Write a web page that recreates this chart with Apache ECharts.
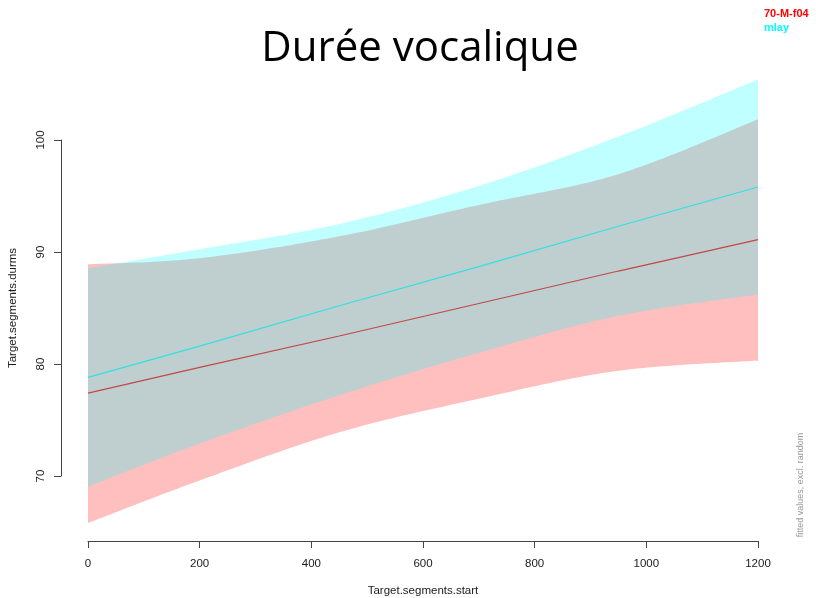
<!DOCTYPE html>
<html>
<head>
<meta charset="utf-8">
<script src="https://cdn.jsdelivr.net/npm/echarts@6/dist/echarts.min.js"></script>
<style>
html,body{margin:0;padding:0;background:#fff;}
#chart{width:816px;height:598px;}
</style>
</head>
<body>
<div id="chart"></div>
<script>
// x positions (Target.segments.start)
const xs = [0, 200, 450, 700, 950, 1200];
// 70-M-f04 (red)
const redFit   = [77.4, 79.7, 82.5, 85.4, 88.3, 91.1];
const redUpper = [88.9, 89.45, 91.4, 94.2, 96.95, 101.85];
const redLower = [65.8, 69.6, 73.9, 76.9, 79.4, 80.3];
// mlay (cyan)
const cyanFit   = [78.8, 81.6, 85.2, 88.7, 92.3, 95.8];
const cyanUpper = [88.55, 90.25, 92.5, 95.9, 100.3, 105.4];
const cyanLower = [69.05, 72.9, 77.2, 81.0, 84.3, 86.2];
const xTicks = [0, 200, 400, 600, 800, 1000, 1200];
const yTicks = [70, 80, 90, 100];

const pairs = arr => xs.map((x, i) => [x, arr[i]]);

// Catmull-Rom smoothing of pixel points (drawing only)
function smoothPts(p) {
  const out = [];
  const n = p.length;
  for (let i = 0; i < n - 1; i++) {
    const p0 = p[Math.max(i - 1, 0)], p1 = p[i], p2 = p[i + 1], p3 = p[Math.min(i + 2, n - 1)];
    const steps = 24;
    for (let s = 0; s < steps; s++) {
      const t = s / steps, t2 = t * t, t3 = t2 * t;
      const f = (a, b, c, d) => 0.5 * ((2 * b) + (-a + c) * t + (2 * a - 5 * b + 4 * c - d) * t2 + (-a + 3 * b - 3 * c + d) * t3);
      out.push([f(p0[0], p1[0], p2[0], p3[0]), f(p0[1], p1[1], p2[1], p3[1])]);
    }
  }
  out.push(p[n - 1]);
  return out;
}

function bandSeries(name, upper, lower, color) {
  return {
    type: 'custom', name: name, silent: true, clip: false,
    data: xs.map((x, i) => [x, lower[i], upper[i]]),
    encode: {x: 0, y: [1, 2]},
    renderItem: function (params, api) {
      if (params.dataIndex !== 0) return;
      const up = smoothPts(xs.map((x, i) => api.coord([x, upper[i]])));
      const lo = smoothPts(xs.map((x, i) => api.coord([x, lower[i]])));
      return {type: 'polygon', shape: {points: up.concat(lo.reverse())}, style: {fill: color, stroke: null}};
    }
  };
}

const chart = echarts.init(document.getElementById('chart'), null, {renderer: 'canvas'});
const lbl = {fontFamily: 'Liberation Sans', fontSize: 11.5, color: '#1a1a1a'};
const lineCommon = {type: 'line', symbol: 'none', smooth: false, clip: false, silent: true};

chart.setOption({
  animation: false,
  backgroundColor: '#fff',
  grid: {left: 88, right: 58, top: 140, bottom: 122, containLabel: false, outerBoundsMode: 'none'},
  xAxis: {
    type: 'value', min: xTicks[0], max: xTicks[xTicks.length - 1], interval: 200, offset: 65,
    axisLine: {show: true, onZero: false, lineStyle: {color: '#444', width: 1}},
    axisTick: {show: true, length: 7, lineStyle: {color: '#444'}},
    axisLabel: Object.assign({margin: 17, formatter: v => String(v)}, lbl),
    splitLine: {show: false},
    name: 'Target.segments.start', nameLocation: 'middle', nameGap: 44,
    nameTextStyle: lbl
  },
  yAxis: {
    type: 'value', min: yTicks[0], max: yTicks[yTicks.length - 1], interval: 10, offset: 27,
    axisLine: {show: true, onZero: false, lineStyle: {color: '#444', width: 1}},
    axisTick: {show: true, length: 7, lineStyle: {color: '#444'}},
    axisLabel: Object.assign({margin: 14, rotate: 90, formatter: v => String(v)}, lbl),
    splitLine: {show: false},
    name: 'Target.segments.durms', nameLocation: 'middle', nameGap: 42,
    nameTextStyle: lbl
  },
  graphic: [
    {type: 'text', x: 420, y: 49, style: {text: 'Durée vocalique', fill: '#000', font: '42px Open Sans', align: 'center', verticalAlign: 'middle'}},
    {type: 'text', left: 764, top: 8, style: {text: '70-M-f04', fill: '#ff0000', font: 'bold 11px Liberation Sans'}},
    {type: 'text', left: 764, top: 22, style: {text: 'mlay', fill: '#00ffff', font: 'bold 11px Liberation Sans'}},
    {type: 'text', x: 801, y: 485, rotation: Math.PI / 2,
     style: {text: 'fitted values, excl. random', fill: '#999', font: '9px Liberation Sans', align: 'center', verticalAlign: 'middle'}}
  ],
  series: [
    bandSeries('70-M-f04 CI', redUpper, redLower, 'rgba(255,0,0,0.25)'),
    bandSeries('mlay CI', cyanUpper, cyanLower, 'rgba(0,255,255,0.25)'),
    Object.assign({}, lineCommon, {name: '70-M-f04', data: pairs(redFit), lineStyle: {color: '#c04848', width: 1.2}}),
    Object.assign({}, lineCommon, {name: 'mlay', data: pairs(cyanFit), lineStyle: {color: '#30e0e0', width: 1.2}})
  ]
});
</script>
</body>
</html>
